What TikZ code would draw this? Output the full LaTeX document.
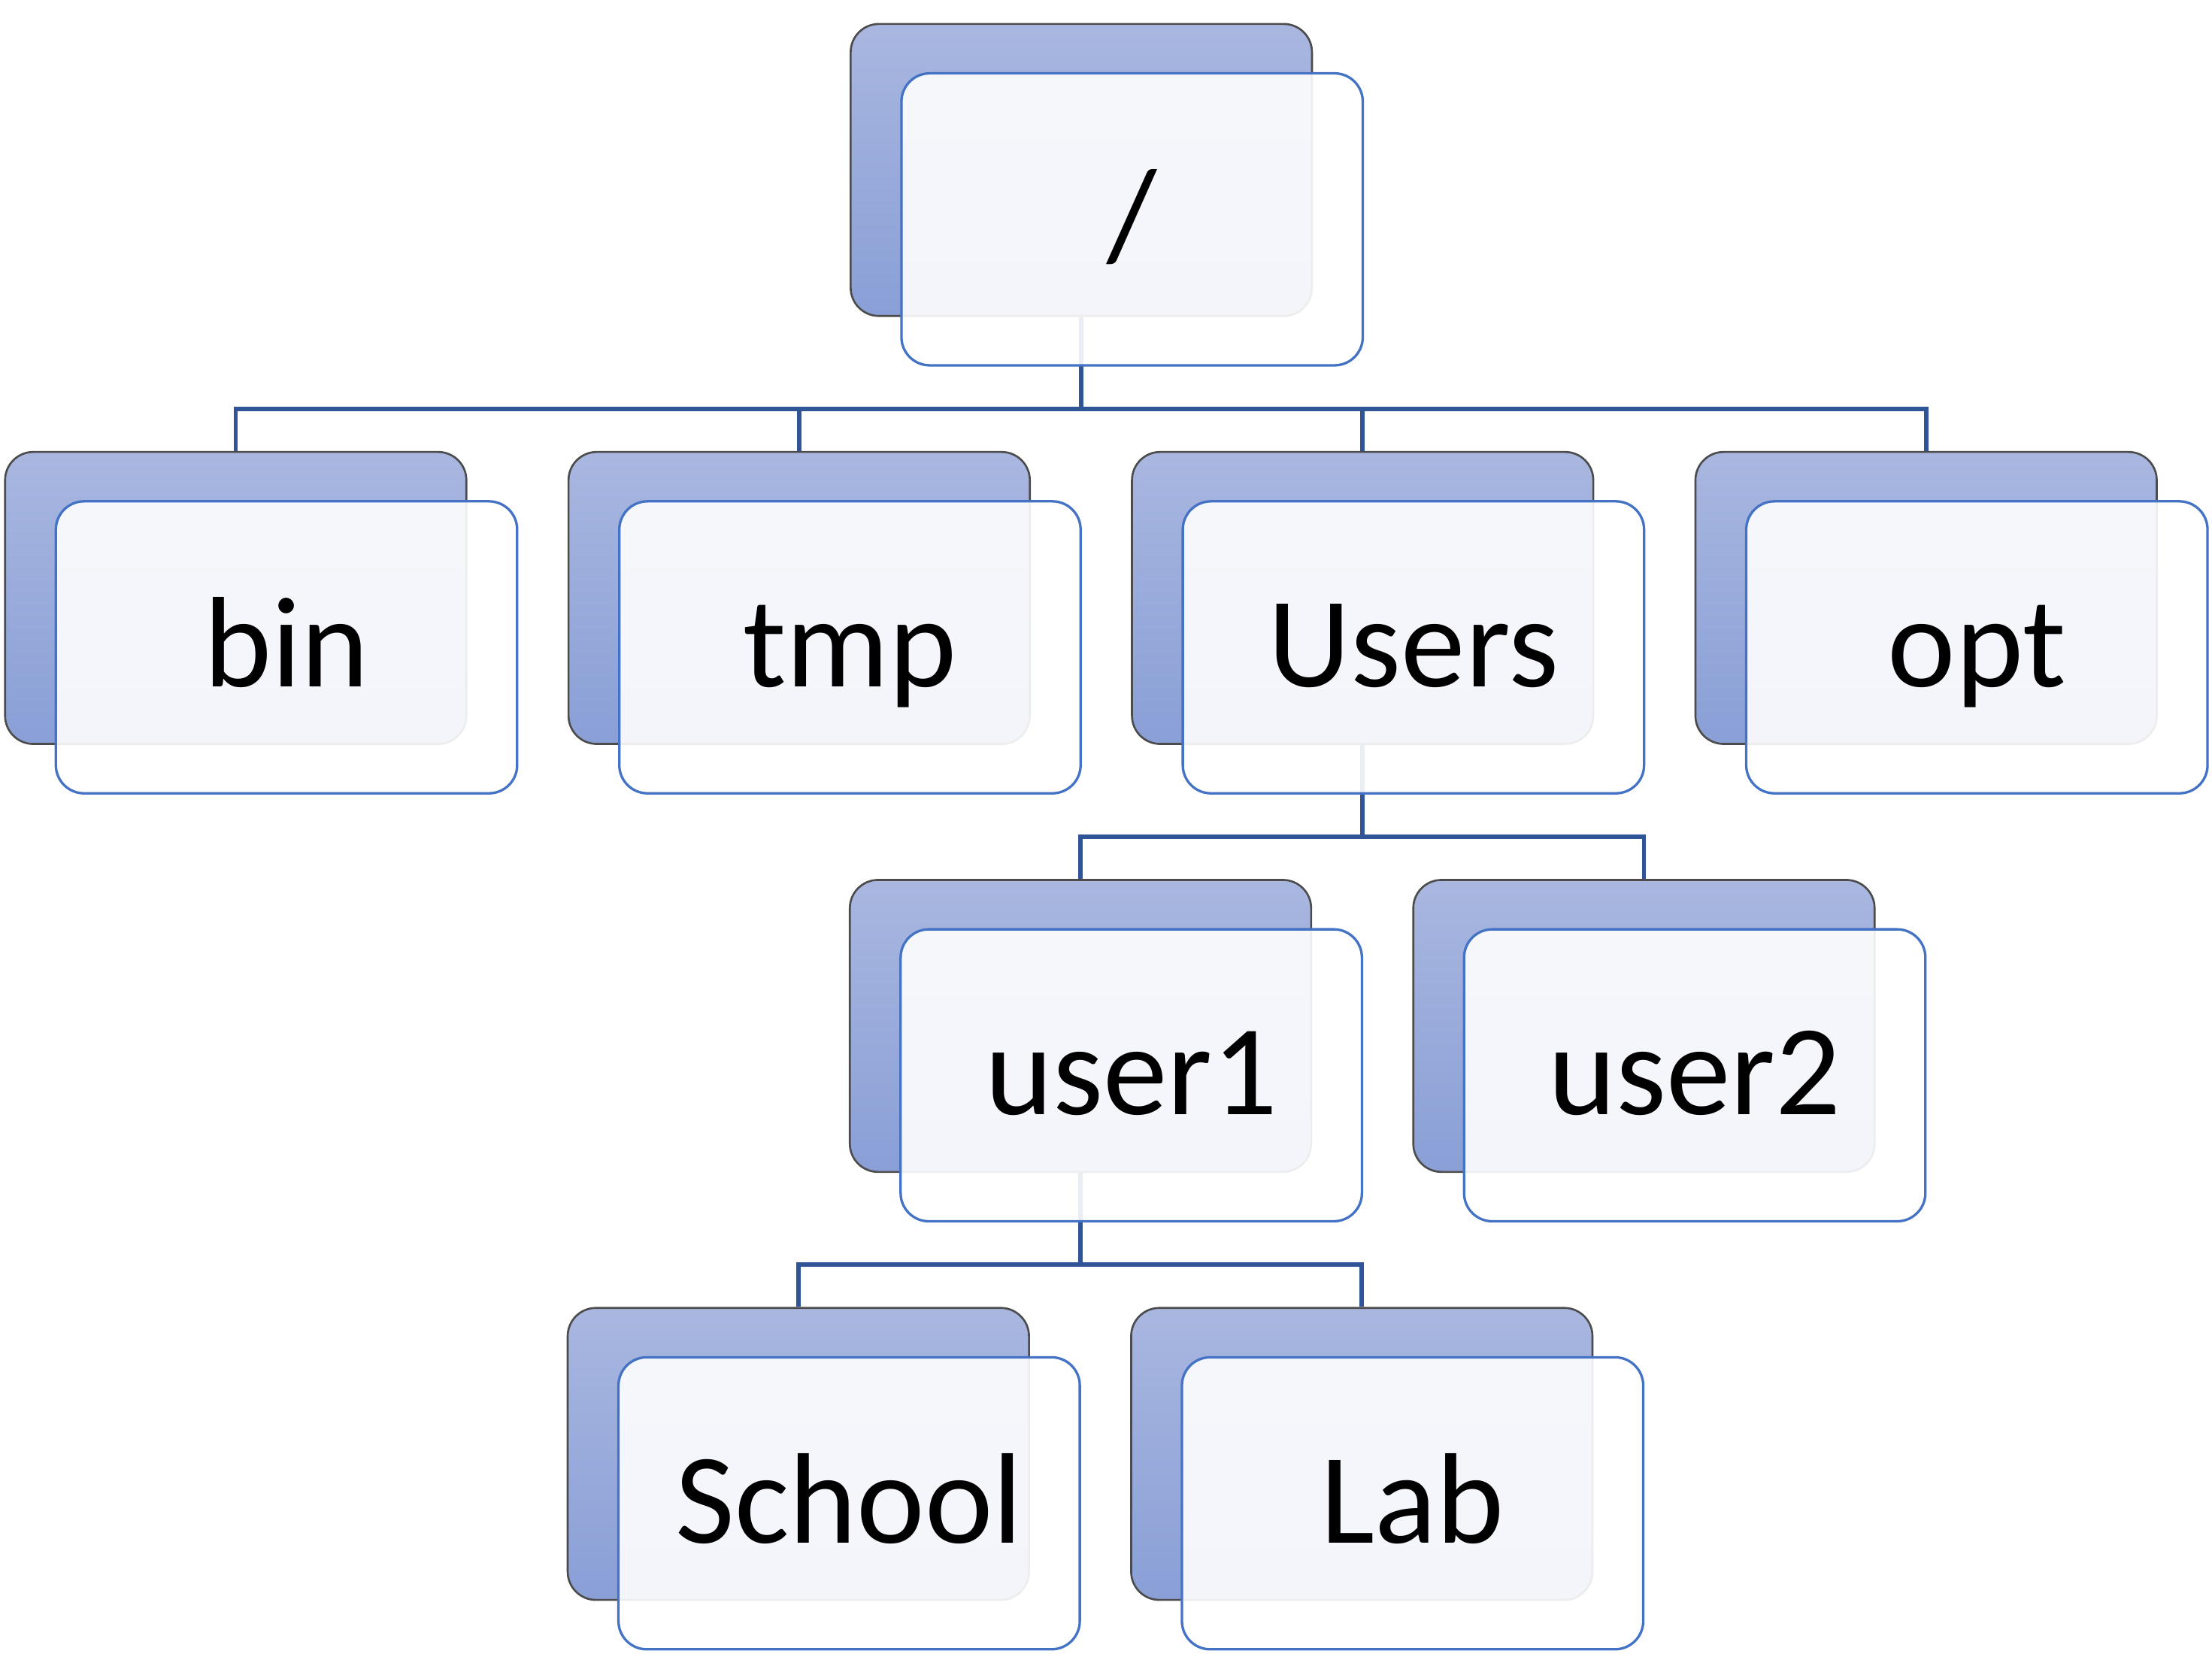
\documentclass[tikz,border=0pt]{standalone}
\usepackage{fontspec}
\setmainfont{Carlito}
\usetikzlibrary{positioning,backgrounds}

\definecolor{backtop}{HTML}{A9B7E0}
\definecolor{backbot}{HTML}{899FD6}
\definecolor{frontline}{HTML}{4472C4}
\definecolor{linkblue}{HTML}{2F5597}

\begin{document}
\begin{tikzpicture}[
    node distance=9.5mm and 7.1mm,
    back/.style={draw=black!70, line width=0.4pt, rounded corners=2mm,
                 minimum width=32.7mm, minimum height=20.7mm, inner sep=0pt,
                 top color=backtop, bottom color=backbot},
    front/.style={draw=frontline, line width=0.5pt, rounded corners=2mm,
                  fill=white, fill opacity=0.9, text opacity=1,
                  minimum width=32.7mm, minimum height=20.7mm, inner sep=0pt,
                  font=\fontsize{26}{30}\selectfont, text height=5.6mm, text depth=0pt},
    link/.style={draw=linkblue, line width=0.9pt},
]
\useasboundingbox (0,0) rectangle (15.68,-11.87);

% Back cards (the tree layout).
\node[back] at (7.665,-1.205)                   (root)   {};
\node[back, below=of root, xshift=-20mm]        (tmp)    {};
\node[back, left=of tmp]                        (bin)    {};
\node[back, right=of tmp]                       (users)  {};
\node[back, right=of users]                     (opt)    {};
\node[back, below=of users, xshift=-20mm]       (user1)  {};
\node[back, right=of user1]                     (user2)  {};
\node[back, below=of user1, xshift=-20mm]       (school) {};
\node[back, right=of school]                    (lab)    {};

% Front cards with the names.
\node[front] at ([shift={(3.6mm,-3.5mm)}]root.center)   (root_f)   {/};
\node[front] at ([shift={(3.6mm,-3.5mm)}]bin.center)    (bin_f)    {bin};
\node[front] at ([shift={(3.6mm,-3.5mm)}]tmp.center)    (tmp_f)    {tmp};
\node[front] at ([shift={(3.6mm,-3.5mm)}]users.center)  (users_f)  {Users};
\node[front] at ([shift={(3.6mm,-3.5mm)}]opt.center)    (opt_f)    {opt};
\node[front] at ([shift={(3.6mm,-3.5mm)}]user1.center)  (user1_f)  {user1};
\node[front] at ([shift={(3.6mm,-3.5mm)}]user2.center)  (user2_f)  {user2};
\node[front] at ([shift={(3.6mm,-3.5mm)}]school.center) (school_f) {School};
\node[front] at ([shift={(3.6mm,-3.5mm)}]lab.center)    (lab_f)    {Lab};

% Links (behind the front cards).
\begin{scope}[on background layer]
\draw[link] (root.south) -- ++(0,-6.5mm) -| (bin.north);
\draw[link] (root.south) -- ++(0,-6.5mm) -| (tmp.north);
\draw[link] (root.south) -- ++(0,-6.5mm) -| (users.north);
\draw[link] (root.south) -- ++(0,-6.5mm) -| (opt.north);
\draw[link] (users.south) -- ++(0,-6.5mm) -| (user1.north);
\draw[link] (users.south) -- ++(0,-6.5mm) -| (user2.north);
\draw[link] (user1.south) -- ++(0,-6.5mm) -| (school.north);
\draw[link] (user1.south) -- ++(0,-6.5mm) -| (lab.north);
\end{scope}
\end{tikzpicture}
\end{document}
